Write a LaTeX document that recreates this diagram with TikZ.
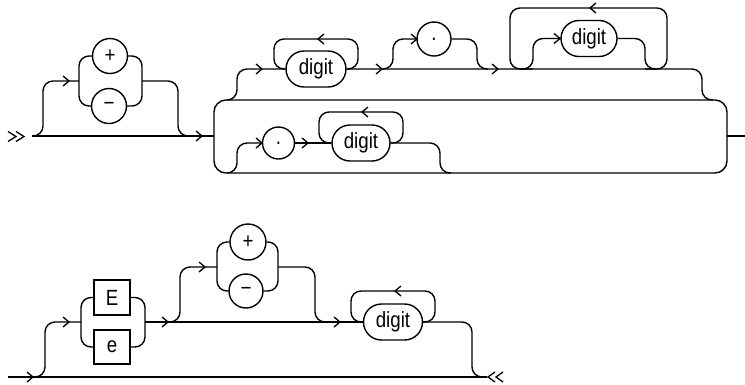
\documentclass[tikz,border=0pt]{standalone}
\usepackage{fontspec}
\setmainfont{Liberation Sans}[FakeStretch=0.85]
\begin{document}
\begin{tikzpicture}[x=1pt,y=-1pt,
  rail/.style={draw, line width=1.4pt, rounded corners=10pt},
  lbl/.style={font=\fontsize{22}{25}\selectfont, inner sep=0pt, line width=1.4pt},
  termr/.style={lbl, draw, rounded corners=18pt, minimum height=36pt},
  circn/.style={lbl, draw, circle, minimum size=#1},
  circn/.default=35pt,
  boxn/.style={lbl, draw, rectangle, minimum width=36pt, minimum height=35pt},
  rarr/.pic={\draw[line width=1.3pt] (-6,-5) -- (0,0) -- (-6,5);},
  larr/.pic={\draw[line width=1.3pt] (6,-5) -- (0,0) -- (6,5);}
]
\path[use as bounding box, fill=white] (0,0) rectangle (745,384);

% ---------------- top diagram ----------------
\coordinate (s1) at (32,136);
\draw[line width=1.3pt] (8,131.5) -- (16,136.5) -- (8,141.5);
\draw[line width=1.3pt] (16,131.5) -- (24,136.5) -- (16,141.5);
\draw[rail] (s1) -- (214,136);

% optional sign
\node[circn] (plus1) at (110,56) {+};
\node[circn] (minus1) at (109,106) {−};
\draw[rail] (33,136) -- (43,136) -- (43,81) -- (79,81);
\pic at (69,81) {rarr};
\draw[rail] (plus1.west) -- (79,56) -- (79,106) -- (minus1.west);
\draw[rail] (plus1.east) -- (142,56) -- (142,106) -- (minus1.east);
\draw[rail] (142,81) -- (178,81) -- (178,136) -- (188,136);
\pic at (202,136) {rarr};

% big choice frame
\draw[rail, rounded corners=12pt] (214,100) rectangle (727,173);
\coordinate (t1) at (745,136);
\draw[rail] (727,136) -- (t1);

% first alternative
\node[termr, minimum width=60pt] (d1) at (316,69) {digit};
\draw[rail] (227,100) -- (237,100) -- (237,69) -- (d1.west);
\pic at (262,69) {rarr};
\draw[rail] (d1.east) -- (358,69) -- (358,39) -- (274,39) -- (274,69) -- (d1.west);
\pic at (318,39) {larr};
\draw[rail] (d1.east) -- (702,69) -- (702,100) -- (713,100);
\pic at (382,69) {rarr};

\node[circn=34pt] (dot1) at (434,39) {.};
\draw[rail] (383,69) -- (393,69) -- (393,39) -- (dot1.west);
\pic at (417,39) {rarr};
\draw[rail] (dot1.east) -- (477,39) -- (477,69) -- (488,69);
\pic at (498,69) {rarr};

\node[termr, minimum width=56pt] (d2) at (589,38.5) {digit};
\draw[rail] (520,69) -- (533,69) -- (533,38.5) -- (d2.west);
\pic at (560,38.5) {rarr};
\draw[rail] (d2.east) -- (645,38.5) -- (645,69) -- (656,69);
\draw[rail] (645,69) -- (667,69) -- (667,8) -- (510,8) -- (510,69) -- (533,69);
\pic at (590,8) {larr};

% second alternative
\node[circn=32pt] (dot2) at (278.5,143) {.};
\draw[rail] (227,173) -- (237,173) -- (237,143) -- (dot2.west);
\pic at (262,143) {rarr};
\node[termr, minimum width=58pt] (d3) at (361,143) {digit};
\draw[rail] (dot2.east) -- (d3.west);
\pic at (308,143) {rarr};
\draw[rail] (d3.east) -- (403,143) -- (403,112) -- (319,112) -- (319,143) -- (d3.west);
\pic at (362,112) {larr};
\draw[rail] (d3.east) -- (440,143) -- (440,173) -- (451,173);

% ---------------- bottom diagram ----------------
\coordinate (s2) at (8,377);
\coordinate (t2) at (487,377);
\draw[rail] (s2) -- (t2);
\pic at (33,377) {rarr};
\draw[line width=1.3pt] (495,372) -- (488,377) -- (495,382);
\draw[line width=1.3pt] (503,372) -- (496,377) -- (503,382);

\node[boxn] (E) at (112,297.5) {\raisebox{-2pt}{E}};
\node[boxn, minimum height=34pt] (e) at (112,347) {e};
\draw[rail] (35,377) -- (45,377) -- (45,322) -- (81,322);
\pic at (69,322) {rarr};
\draw[rail] (E.west) -- (81,297.5) -- (81,347) -- (e.west);
\draw[rail] (E.east) -- (145,297.5) -- (145,347) -- (e.east);

\node[termr, minimum width=59pt] (d4) at (393,322) {digit};
\draw[rail] (145,322) -- (d4.west);
\pic at (168,322) {rarr};

\node[circn=36pt] (plus2) at (248,242) {+};
\node[circn=34pt] (minus2) at (246,291) {−};
\draw[rail] (169,322) -- (180,322) -- (180,267) -- (217,267);
\pic at (205,267) {rarr};
\draw[rail] (plus2.west) -- (217,242) -- (217,291) -- (minus2.west);
\draw[rail] (plus2.east) -- (278,242) -- (278,291) -- (minus2.east);
\draw[rail] (278,267) -- (315,267) -- (315,322) -- (326,322);
\pic at (340,322) {rarr};

\draw[rail] (d4.east) -- (435,322) -- (435,291) -- (351,291) -- (351,322) -- (d4.west);
\pic at (395,291) {larr};
\draw[rail] (d4.east) -- (472,322) -- (472,377) -- (483,377);
\end{tikzpicture}
\end{document}
